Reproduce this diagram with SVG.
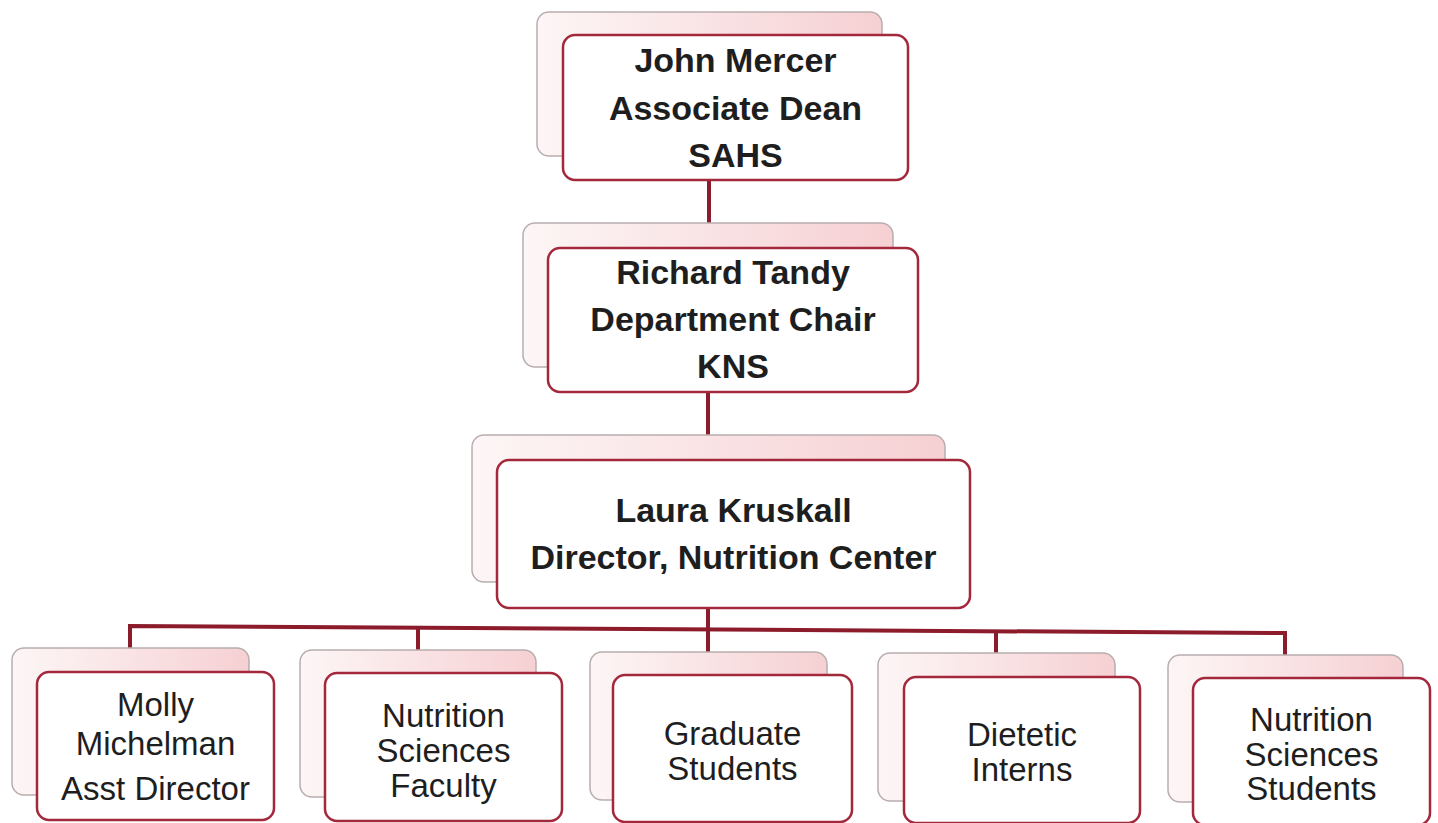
<svg xmlns="http://www.w3.org/2000/svg" width="1438" height="823" viewBox="0 0 1438 823">
<defs>
<linearGradient id="sh" x1="0" y1="0" x2="1" y2="0">
<stop offset="0" stop-color="#fdf6f6"/>
<stop offset="1" stop-color="#f6d0d3"/>
</linearGradient>
<style>
.bg{fill:#ffffff}
.sh{fill:url(#sh);stroke:#b8adae;stroke-width:1.5}
.fr{fill:#ffffff;stroke:#a3283c;stroke-width:2.5}
.con{fill:none;stroke:#8c1c2c;stroke-width:4}
.tb{font-family:"Liberation Sans",Arial,sans-serif;font-weight:bold;font-size:34px;fill:#1e1e1e;text-anchor:middle}
.tr{font-family:"Liberation Sans",Arial,sans-serif;font-size:33px;fill:#1e1e1e;text-anchor:middle}
</style>
</defs>
<rect class="bg" x="0" y="0" width="1438" height="823"/>
<g id="connectors">
<line class="con" x1="709" y1="180" x2="709" y2="230"/>
<line class="con" x1="708" y1="392" x2="708" y2="442"/>
<line class="con" x1="708" y1="608" x2="708" y2="660"/>
<polyline class="con" points="130,655 130,626 1285,633 1285,660"/>
<line class="con" x1="418" y1="627" x2="418" y2="660"/>
<line class="con" x1="996" y1="631" x2="996" y2="660"/>
</g>
<g id="node-mercer">
<rect class="sh" x="537" y="12" width="345" height="144" rx="12"/>
<rect class="fr" x="563" y="35" width="345" height="145" rx="12"/>
<text class="tb" x="735.5" y="72">John Mercer</text>
<text class="tb" x="735.5" y="120">Associate Dean</text>
<text class="tb" x="735.5" y="167">SAHS</text>
</g>
<g id="node-tandy">
<rect class="sh" x="523" y="223" width="370" height="144" rx="12"/>
<rect class="fr" x="548" y="248" width="370" height="144" rx="12"/>
<text class="tb" x="733" y="284">Richard Tandy</text>
<text class="tb" x="733" y="331">Department Chair</text>
<text class="tb" x="733" y="378">KNS</text>
</g>
<g id="node-kruskall">
<rect class="sh" x="472" y="435" width="473" height="147" rx="12"/>
<rect class="fr" x="497" y="460" width="473" height="148" rx="12"/>
<text class="tb" x="733.5" y="522">Laura Kruskall</text>
<text class="tb" x="733.5" y="569">Director, Nutrition Center</text>
</g>
<g id="node-michelman">
<rect class="sh" x="12" y="648" width="237" height="147" rx="12"/>
<rect class="fr" x="37" y="672" width="237" height="148" rx="12"/>
<text class="tr" x="155.5" y="716">Molly</text>
<text class="tr" x="155.5" y="755">Michelman</text>
<text class="tr" x="155.5" y="800">Asst Director</text>
</g>
<g id="node-faculty">
<rect class="sh" x="300" y="650" width="236" height="147" rx="12"/>
<rect class="fr" x="325" y="673" width="237" height="148" rx="12"/>
<text class="tr" x="443.5" y="727">Nutrition</text>
<text class="tr" x="443.5" y="762">Sciences</text>
<text class="tr" x="443.5" y="797">Faculty</text>
</g>
<g id="node-graduate">
<rect class="sh" x="590" y="652" width="237" height="148" rx="12"/>
<rect class="fr" x="613" y="675" width="239" height="147" rx="12"/>
<text class="tr" x="732.5" y="745">Graduate</text>
<text class="tr" x="732.5" y="780">Students</text>
</g>
<g id="node-dietetic">
<rect class="sh" x="878" y="653" width="237" height="148" rx="12"/>
<rect class="fr" x="904" y="677" width="236" height="146" rx="12"/>
<text class="tr" x="1022" y="746">Dietetic</text>
<text class="tr" x="1022" y="781">Interns</text>
</g>
<g id="node-students">
<rect class="sh" x="1168" y="655" width="235" height="147" rx="12"/>
<rect class="fr" x="1193" y="678" width="237" height="147" rx="12"/>
<text class="tr" x="1311.5" y="731">Nutrition</text>
<text class="tr" x="1311.5" y="766">Sciences</text>
<text class="tr" x="1311.5" y="800">Students</text>
</g>
</svg>
